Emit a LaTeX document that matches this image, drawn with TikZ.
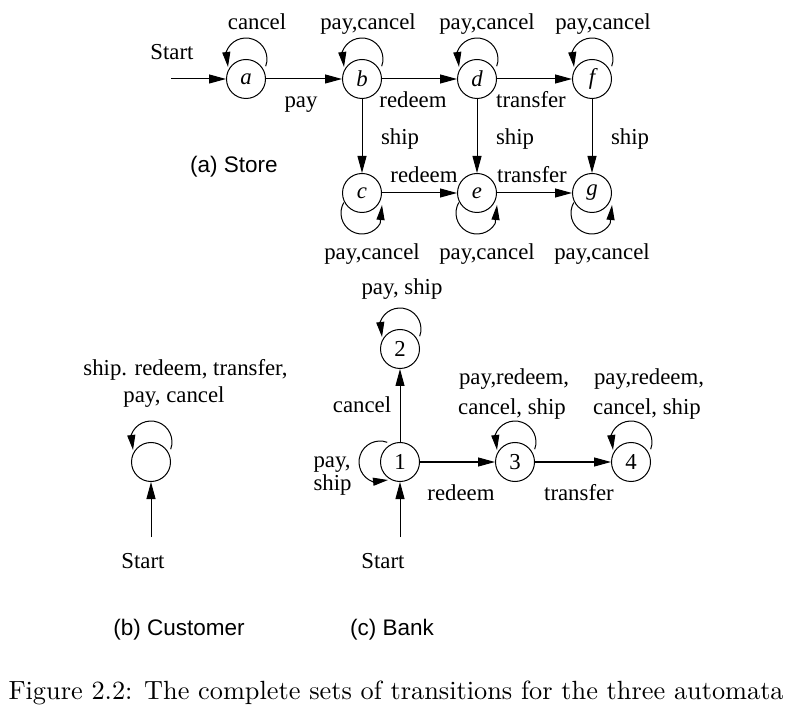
\documentclass[tikz,border=0pt]{standalone}
\usepackage{fontspec}
\usepackage{graphicx}
\newfontfamily\tmsfam{Liberation Serif}
\newfontfamily\helvfam{Liberation Sans}
\newcommand\lblfont{\tmsfam\fontsize{22.8}{27}\selectfont}
\newcommand\subfont{\helvfam\fontsize{22.5}{27}\selectfont}
\usetikzlibrary{arrows.meta}
\begin{document}
\begin{tikzpicture}[x=1pt,y=1pt,line width=1pt,
  >={Triangle[length=17pt,width=9pt]},
  looparrow/.style={-{Triangle[length=15pt,width=8pt]}},
  st/.style={circle,draw,minimum size=39pt,inner sep=0pt,font=\lblfont\itshape},
  lbl/.style={font=\lblfont,inner sep=0pt,anchor=base},
  sublbl/.style={font=\subfont,inner sep=0pt,anchor=base}]
\useasboundingbox (0,0) rectangle (792,710);

% ---------- (a) Store ----------
\node[st] (a) at (246,631) {a};
\node[st] (b) at (362,631) {b};
\node[st] (d) at (477,631) {d};
\node[st] (f) at (592,631) {f};
\node[st] (c) at (362,517) {c};
\node[st] (e) at (477,517) {e};
\node[st] (g) at (592,517) {g};
\coordinate (s0) at (171,631);
\draw[->] (s0) -- (a);
\draw[->] (a) -- (b);
\draw[->] (b) -- (d);
\draw[->] (d) -- (f);
\draw[->] (b) -- (c);
\draw[->] (d) -- (e);
\draw[->] (f) -- (g);
\draw[->] (c) -- (e);
\draw[->] (e) -- (g);
\foreach \n in {a,b,d,f}
  \draw[looparrow] ([shift={(19.7,12.8)}]\n.center) arc[start angle=-20,end angle=160,radius=21]
    -- ([shift={(-18,12)}]\n.center);
\foreach \n in {c,e,g}
  \draw[looparrow] ([shift={(-18.2,-9.5)}]\n.center) arc[start angle=150,end angle=330,radius=21]
    -- ([shift={(20,-12)}]\n.center);
\node[lbl] (ls0) at (172,650) {Start};
\node[lbl] (la) at (257,680) {cancel};
\node[lbl] (lb) at (368,680) {pay,cancel};
\node[lbl] (ld) at (487,680) {pay,cancel};
\node[lbl] (lf) at (603,680) {pay,cancel};
\node[lbl] (lab) at (301,602) {pay};
\node[lbl] (lbd) at (413,602) {redeem};
\node[lbl] (ldf) at (531,602) {transfer};
\node[lbl] (lbc) at (400,565) {ship};
\node[lbl] (lde) at (515,565) {ship};
\node[lbl] (lfg) at (630,565) {ship};
\node[lbl] (lce) at (424,527) {redeem};
\node[lbl] (leg) at (532,527) {transfer};
\node[lbl] (lc) at (372,450) {pay,cancel};
\node[lbl] (le) at (487,450) {pay,cancel};
\node[lbl] (lg) at (602,450) {pay,cancel};
\node[sublbl] (capa) at (234,537) {(a) Store};

% ---------- (b) Customer ----------
\node[st] (cu) at (151,248) {};
\coordinate (s1) at (151,173);
\draw[->] (s1) -- (cu);
\draw[looparrow] ([shift={(19.7,12.8)}]cu.center) arc[start angle=-20,end angle=160,radius=21]
    -- ([shift={(-18,12)}]cu.center);
\node[lbl] (lcu1) at (185.5,334) {ship. redeem, transfer,};
\node[lbl] (lcu2) at (174,307) {pay, cancel};
\node[lbl] (ls1) at (143,142) {Start};
\node[sublbl] (capb) at (179,75) {(b) Customer};

% ---------- (c) Bank ----------
\node[st,font=\lblfont] (n1) at (400,248) {1};
\node[st,font=\lblfont] (n2) at (400,361) {2};
\node[st,font=\lblfont] (n3) at (515,248) {3};
\node[st,font=\lblfont] (n4) at (631,248) {4};
\coordinate (s2) at (400,173);
\draw[->] (s2) -- (n1);
\draw[->] (n1) -- (n2);
\draw[->] (n1) -- (n3);
\draw[->] (n3) -- (n4);
\foreach \n in {n2,n3,n4}
  \draw[looparrow] ([shift={(19.7,12.8)}]\n.center) arc[start angle=-20,end angle=160,radius=21]
    -- ([shift={(-18,12)}]\n.center);
\draw[looparrow] ([shift={(-12.8,19.7)}]n1.center) arc[start angle=70,end angle=250,radius=21]
    -- ([shift={(-12,-18)}]n1.center);
\node[lbl] (l2) at (402,415) {pay, ship};
\node[lbl] (l12) at (362,297) {cancel};
\node[lbl,anchor=base west] (l1a) at (313,243) {pay,};
\node[lbl,anchor=base west] (l1b) at (313,220) {ship};
\node[lbl] (l13) at (461,210) {redeem};
\node[lbl] (l34) at (579,210) {transfer};
\node[lbl] (l3a) at (514,325) {pay,redeem,};
\node[lbl] (l3b) at (512,295) {cancel, ship};
\node[lbl] (l4a) at (649,325) {pay,redeem,};
\node[lbl] (l4b) at (647,295) {cancel, ship};
\node[lbl] (ls2) at (383,142) {Start};
\node[sublbl] (capc) at (392,75) {(c) Bank};

% ---------- caption ----------
\node[anchor=base west,inner sep=0pt] (cap) at (8,11)
  {\resizebox{775pt}{!}{Figure 2.2: The complete sets of transitions for the three automata}};
\end{tikzpicture}
\end{document}
